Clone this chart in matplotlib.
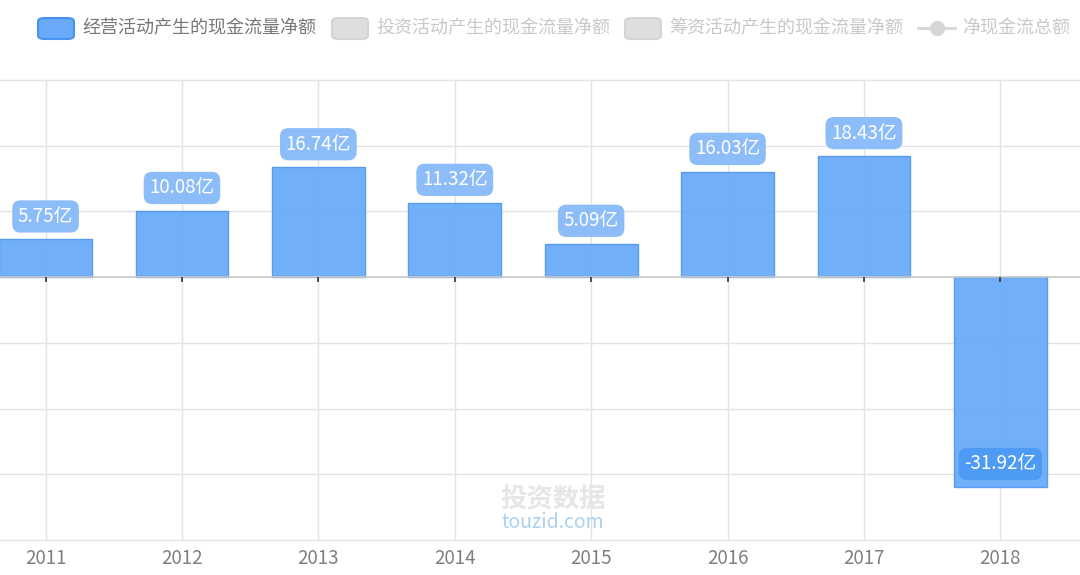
import matplotlib.pyplot as plt
from matplotlib.patches import FancyBboxPatch
from matplotlib.lines import Line2D

plt.rcParams['font.family'] = ['Noto Sans CJK SC', 'DejaVu Sans']

## DATA

years = ["2011", "2012", "2013", "2014", "2015", "2016", "2017", "2018"]
operating = [5.75, 10.08, 16.74, 11.32, 5.09, 16.03, 18.43, -31.92]
legendNames = ["经营活动产生的现金流量净额", "投资活动产生的现金流量净额",
               "筹资活动产生的现金流量净额", "净现金流总额"]
yTicks = [-40, -30, -20, -10, 0, 10, 20, 30]

W, H = 1080, 575
fig = plt.figure(figsize=(W / 100, H / 100), dpi=100)
ax = fig.add_axes([0, (H - 540) / H, 1, 460 / H])

xs = list(range(len(years)))
ax.set_xlim(-0.334, 7.584)
ax.set_ylim(yTicks[0], yTicks[-1])

# grid
for t in yTicks:
    if t != 0:
        ax.axhline(t, color="#e3e3e3", lw=1, zorder=0, clip_on=False)
for x in xs:
    ax.axvline(x, color="#e3e3e3", lw=1, zorder=0)

ax.bar(xs, operating, width=0.68, color="#62a7f8", alpha=0.9,
       edgecolor="#4f95ee", linewidth=1, zorder=2)

# zero axis line with tick marks
ax.axhline(0, color="#c8c8c8", lw=1.2, zorder=3)
ax.vlines(xs, 0, -0.75, color="#333333", lw=1.2, zorder=3)

for x, v in zip(xs, operating):
    fc = "#8dbdf8" if v >= 0 else "#4d9bf4"
    ax.annotate(f"{v:.2f}亿", xy=(x, v), xytext=(0, 16.5), textcoords="offset points",
                ha="center", va="center", color="white", fontsize=13.5, zorder=5,
                bbox=dict(boxstyle="round,pad=0.3,rounding_size=0.45", fc=fc, ec="none"))

for s in ax.spines.values():
    s.set_visible(False)
ax.set_yticks([])
ax.set_xticks(xs)
ax.set_xticklabels(years, color="#808080", fontsize=13.5)
ax.tick_params(axis="x", length=0, pad=6)

# legend
legX = [37, 331, 624, 918]
for i, (lx, name) in enumerate(zip(legX, legendNames)):
    col = "#777777" if i == 0 else "#c8c8c8"
    if i < 3:
        fc, ec = ("#6aaaf8", "#4a92f0") if i == 0 else ("#dedede", "#d4d4d4")
        fig.patches.append(FancyBboxPatch(((lx + 1) / W, (H - 39) / H), 36 / W, 21 / H,
                                          boxstyle="round,pad=0,rounding_size=0.006",
                                          transform=fig.transFigure, fc=fc, ec=ec, lw=1.5))
    else:
        fig.lines.append(Line2D([lx / W, (lx + 37) / W], [(H - 28) / H] * 2,
                                transform=fig.transFigure, color="#d6d6d6", lw=2,
                                marker=None))
        fig.lines.append(Line2D([(lx + 18.5) / W], [(H - 28) / H], transform=fig.transFigure,
                                color="#d6d6d6", marker="o", markersize=10))
    tx = lx + 45 if i < 3 else lx + 44
    fig.text(tx / W, (H - 28) / H, name, color=col, fontsize=13, va="center", ha="left")

# watermark
fig.text(553 / W, (H - 500) / H, "投资数据", color="#e6e6e6", fontsize=19, weight="bold",
         ha="center", va="center")
fig.text(553 / W, (H - 523) / H, "touzid.com", color="#a9d1f2", fontsize=14,
         ha="center", va="center")

fig.savefig("out.png", dpi=100)
